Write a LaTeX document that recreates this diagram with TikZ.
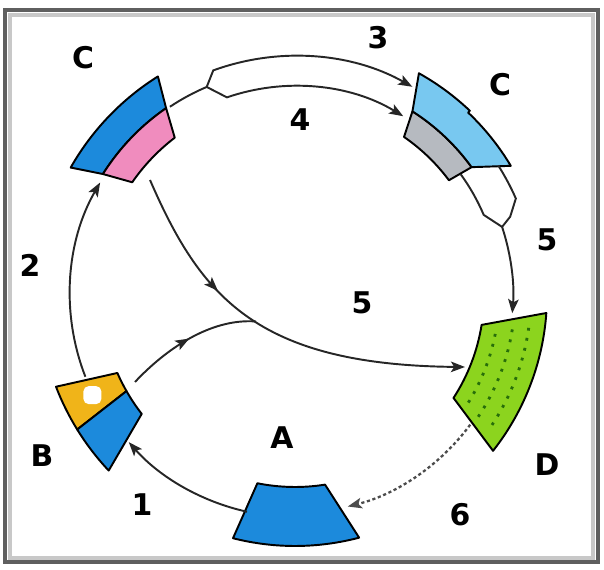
\documentclass[tikz,border=0pt]{standalone}
\usepackage{fontspec}
\setmainfont{DejaVu Sans}
\usetikzlibrary{arrows.meta, decorations.markings, calc}
\definecolor{CycleBlue}{RGB}{28,138,220}
\definecolor{CyclePink}{RGB}{240,140,190}
\definecolor{CycleSky}{RGB}{120,200,240}
\definecolor{CycleGrey}{RGB}{182,186,192}
\definecolor{CycleGold}{RGB}{240,180,25}
\definecolor{CycleGreen}{RGB}{140,212,30}
\definecolor{DotGreen}{RGB}{40,110,10}
\definecolor{FrameDark}{RGB}{95,95,95}
\definecolor{FrameLight}{RGB}{200,200,200}
\tikzset{
  sector/.style={draw=black, line width=1.1pt, line join=round},
  link/.style={draw=black!85, line width=1.1pt},
  flow/.style={link, -{Stealth[length=8pt,width=6pt,inset=1.8pt]}},
  midarrow/.style={postaction={decorate}, decoration={markings,
      mark=at position #1 with {\arrow{Stealth[length=8pt,width=6pt,inset=1.8pt]}}}},
  dotrow/.style={DotGreen, line width=1.6pt, dash pattern=on 1.6pt off 4.2pt},
  lbl/.style={font=\fontsize{17}{20}\selectfont\bfseries}
}
\begin{document}
\begin{tikzpicture}[x=0.02cm, y=0.02cm]
  \useasboundingbox (0,0) rectangle (604,570);
  % window frame
  \draw[FrameDark, line width=2.5pt] (5,8) rectangle (598,560);
  \draw[FrameLight, line width=2pt] (10,12) rectangle (593,555);

  \begin{scope}[shift={(295,275)}]
    % C, upper left
    \filldraw[sector, fill=CycleBlue] (150.4:258) arc[start angle=150.4, end angle=122.1, radius=258]
      -- (124.6:227) arc[start angle=124.6, end angle=147.8, radius=227] -- cycle;
    \filldraw[sector, fill=CyclePink] (147.8:227) arc[start angle=147.8, end angle=124.6, radius=227]
      -- (127.4:198) arc[start angle=127.4, end angle=145.3, radius=198] -- cycle;
    % C, upper right
    \filldraw[sector, fill=CycleGrey] (57.4:218) arc[start angle=57.4, end angle=35.9, radius=218]
      -- (36.7:192) arc[start angle=36.7, end angle=55.4, radius=192] -- cycle;
    \filldraw[sector, fill=CycleSky] (57.4:218) -- (60.8:254) arc[start angle=60.8, end angle=46.5, radius=254]
      -- (46.5:251.5) arc[start angle=46.5, end angle=30.9, radius=251.5]
      -- (35.9:218) arc[start angle=35.9, end angle=57.4, radius=218] -- cycle;
    % B
    \filldraw[sector, fill=CycleGold] (201:256) arc[start angle=201, end angle=211.7, radius=256]
      -- (209.7:194) arc[start angle=209.7, end angle=203.7, radius=194] -- cycle;
    \fill[white, rounded corners=3pt] (206.3:226) ++(-9,-9) rectangle ++(18,18);
    \filldraw[sector, fill=CycleBlue] (211.7:256) arc[start angle=211.7, end angle=223.3, radius=256]
      -- (217.8:194) arc[start angle=217.8, end angle=209.7, radius=194] -- cycle;
    % A
    \filldraw[sector, fill=CycleBlue] (255.7:251) arc[start angle=255.7, end angle=284.8, radius=251]
      -- (279:192) arc[start angle=279, end angle=258.7, radius=192] -- cycle;
    % D
    \filldraw[sector, fill=CycleGreen] (-4.1:252) arc[start angle=-4.1, end angle=-38.2, radius=252]
      -- (-33:189) arc[start angle=-33, end angle=-9.1, radius=189] -- cycle;
    \foreach \r/\a/\b in {204/-11/-32, 220/-9/-34, 236/-8/-35}
      \draw[dotrow] (\a:\r) arc[start angle=\a, end angle=\b, radius=\r];

    % cycle connectors
    \coordinate (bTop) at (201.3:225);
    \coordinate (aLeft) at (257.5:222);
    \coordinate (dLow) at (-36.5:218);
    \coordinate (cLeftEdge) at (123.6:226);
    \coordinate (fork) at (113:226);
    \coordinate (join) at (18.2:218);
    \draw[flow] (bTop) arc[start angle=201.3, end angle=150, radius=225];
    \draw[flow] (aLeft) arc[start angle=257.5, end angle=221.5, radius=222];
    \draw[flow, black!70, line width=1.3pt, dash pattern=on 1.8pt off 1.5pt]
      (dLow) arc[start angle=-36.5, end angle=-76, radius=218];
    \draw[link] (cLeftEdge) arc[start angle=123.6, end angle=113, radius=226];
    \draw[flow] (fork) -- (110:239) arc[start angle=110, end angle=60.6, radius=239];
    \draw[flow] (fork) -- (109:209) arc[start angle=109, end angle=58.8, radius=209];
    \draw[link] (36:205) arc[start angle=36, end angle=23, radius=205] -- (join);
    \draw[link] (32.5:241) arc[start angle=32.5, end angle=23.6, radius=241] -- (20:229) -- (join);
    \draw[flow] (join) arc[start angle=18.2, end angle=-4.8, radius=218];
  \end{scope}

  % cross links
  \coordinate (pinkBot) at (150,390);
  \coordinate (dLeft) at (465,203);
  \coordinate (bRight) at (135,188);
  \draw[flow, midarrow=0.33] (pinkBot) .. controls (200,275) and (255,205) .. (dLeft)
    coordinate[pos=0.53] (merge);
  \draw[link, midarrow=0.5] (bRight) .. controls (165,220) and (210,252) .. (merge);

  % labels
  \node[lbl] (lblCl) at (83,512) {C};
  \node[lbl] (lblCr) at (500,485) {C};
  \node[lbl] (lblB) at (42,114) {B};
  \node[lbl] (lblA) at (282,132) {A};
  \node[lbl] (lblD) at (547,105) {D};
  \node[lbl] (lbl1) at (142,65) {1};
  \node[lbl] (lbl2) at (30,305) {2};
  \node[lbl] (lbl3) at (378,532) {3};
  \node[lbl] (lbl4) at (300,450) {4};
  \node[lbl] (lbl5r) at (547,330) {5};
  \node[lbl] (lbl5m) at (362,267) {5};
  \node[lbl] (lbl6) at (460,55) {6};
\end{tikzpicture}
\end{document}
